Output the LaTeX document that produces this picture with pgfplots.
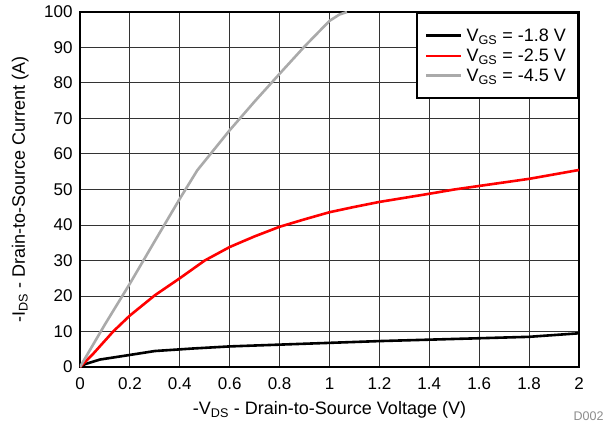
\documentclass[border=0pt]{standalone}
\usepackage{fontspec}
\setmainfont{Liberation Sans}
\usepackage{pgfplots}
\pgfplotsset{compat=1.18}
\definecolor{lgray}{RGB}{170,170,170}
\begin{document}
\begin{tikzpicture}
\begin{axis}[
 scale only axis, width=499pt, height=355pt,
 xmin=0,xmax=2,ymin=0,ymax=100,
 xtick={0,0.2,0.4,0.6,0.8,1,1.2,1.4,1.6,1.8,2}, ytick={0,10,...,100},
 xticklabels={0,0.2,0.4,0.6,0.8,1,1.2,1.4,1.6,1.8,2},
 grid=major, major grid style={black!80, line width=1pt},
 axis line style={line width=2.6pt},
 major tick length=0pt,
 tick label style={font=\fontsize{17}{19}\selectfont},
 xticklabel style={yshift=-7pt},
 yticklabel style={xshift=-4pt},
 /pgf/number format/assume math mode=true,
 xlabel={-V\textsubscript{DS} - Drain-to-Source Voltage (V)},
 ylabel={-I\textsubscript{DS} - Drain-to-Source Current (A)},
 label style={font=\fontsize{18}{20}\selectfont},
 xlabel style={at={(axis description cs:0.5,-0.12)}, anchor=center},
 ylabel style={at={(axis description cs:-0.12,0.5)}, anchor=center},
 legend style={at={(1,1)},anchor=north east, draw=black, line width=2.4pt,
   font=\fontsize{18}{20.5}\selectfont, row sep=2pt, inner xsep=8pt, inner ysep=13.5pt,
   nodes={inner xsep=4pt}},
 legend cell align=left,
 legend image code/.code={\draw[#1, line width=2.6pt] (0pt,0pt) -- (35pt,0pt);},
]
\addplot[black, line width=2.6pt] coordinates {(0,0) (0.02,0.8) (0.08,2.1) (0.2,3.4) (0.3,4.5) (0.45,5.2) (0.6,5.8) (0.8,6.3) (1.0,6.8) (1.2,7.3) (1.5,7.9) (1.8,8.5) (2.0,9.5)};
\addlegendentry{V\textsubscript{GS} = -1.8 V}
\addplot[red, line width=2.6pt] coordinates {(0,0) (0.05,3.5) (0.133,10) (0.2,14.5) (0.3,20.2) (0.4,25) (0.5,30) (0.6,33.8) (0.7,36.8) (0.8,39.5) (0.9,41.6) (1.0,43.6) (1.1,45.1) (1.2,46.5) (1.4,48.8) (1.5,50) (1.6,51) (1.8,53) (2.0,55.5)};
\addlegendentry{V\textsubscript{GS} = -2.5 V}
\addplot[lgray, line width=2.6pt] coordinates {(0,0) (0.05,6) (0.1,12) (0.2,23.5) (0.3,35.5) (0.4,47.4) (0.47,55.4) (0.6,66.7) (0.7,74.8) (0.8,82.6) (0.9,90.3) (1.0,97.5) (1.04,99.3) (1.07,100)};
\addlegendentry{V\textsubscript{GS} = -4.5 V}
\coordinate (sw) at (rel axis cs:0,0);
\coordinate (se) at (rel axis cs:1,0);
\coordinate (ne) at (rel axis cs:1,1);
\end{axis}
\node[anchor=base east, text=black!45, font=\fontsize{12.5}{14}\selectfont] at ([xshift=28pt,yshift=-53pt]se) {D002};
\pgfresetboundingbox
\path ([xshift=-80pt,yshift=-59pt]sw) rectangle ([xshift=29pt,yshift=12pt]ne);
\end{tikzpicture}
\end{document}
